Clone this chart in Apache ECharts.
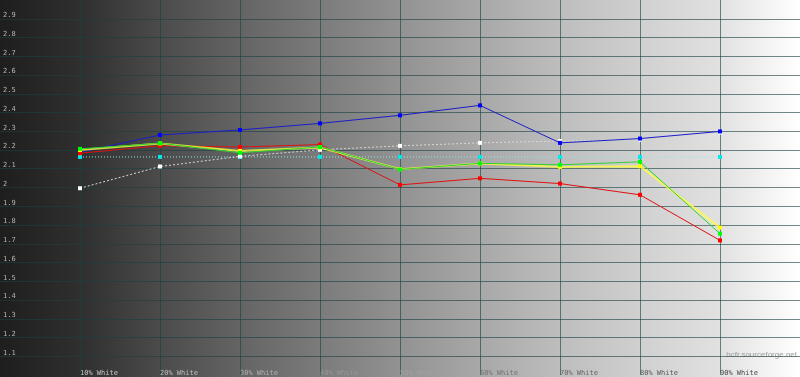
<!DOCTYPE html>
<html>
<head>
<meta charset="utf-8">
<script src="https://cdn.jsdelivr.net/npm/echarts@6/dist/echarts.min.js"></script>
<style>
html,body{margin:0;padding:0;background:#fff;}
#chart{width:800px;height:377px;}
</style>
</head>
<body>
<div id="chart"></div>
<script>
// Data (gamma vs. % white)
const xLevels = [10, 20, 30, 40, 50, 60, 70, 80, 90];
const tickLabelSuffix = '% White';
const blueGamma   = [2.188, 2.280, 2.307, 2.342, 2.385, 2.438, 2.238, 2.261, 2.299];
const redGamma    = [2.183, 2.223, 2.216, 2.229, 2.014, 2.049, 2.021, 1.961, 1.718];
const greenGamma  = [2.206, 2.236, 2.185, 2.216, 2.096, 2.129, 2.121, 2.137, 1.754];
const yellowGamma = [2.200, 2.235, 2.195, 2.213, 2.098, 2.128, 2.110, 2.113, 1.786];
const whiteGamma  = [1.996, 2.112, 2.166, 2.201, 2.222, 2.238, 2.248, 2.255, 2.293];
const targetGamma = [2.163, 2.163, 2.163, 2.163, 2.163, 2.163, 2.163, 2.163, 2.163];

const pairs = arr => xLevels.map((x, i) => [x, arr[i]]);

const labelColors = {10:'#c4c4c4',20:'#bdbdbd',30:'#b0b0b0',40:'#959595',50:'#a0a0a0',60:'#747474',70:'#666666',80:'#5a5a5a',90:'#4a4a4a'};

const chart = echarts.init(document.getElementById('chart'), null, {renderer: 'canvas'});

function line(name, data, color, width, markerColor, opts) {
  return Object.assign({
    name, type: 'line', data: pairs(data),
    symbol: 'rect', symbolSize: 4,
    itemStyle: {color: markerColor || color},
    lineStyle: {color, width},
    animation: false, silent: true
  }, opts || {});
}

const gridColor = 'rgba(24,66,66,0.62)';

chart.setOption({
  animation: false,
  backgroundColor: {
    type: 'linear', x: 0, y: 0, x2: 1, y2: 0,
    colorStops: [
      {offset: 0, color: '#1e1e1e'},
      {offset: 0.1, color: '#2f2f2f'},
      {offset: 0.2, color: '#4b4b4b'},
      {offset: 0.3, color: '#646464'},
      {offset: 0.4, color: '#7b7b7b'},
      {offset: 0.5, color: '#929292'},
      {offset: 0.6, color: '#a8a8a8'},
      {offset: 0.7, color: '#bdbdbd'},
      {offset: 0.8, color: '#d0d0d0'},
      {offset: 0.9, color: '#e1e1e1'},
      {offset: 1, color: '#ffffff'}
    ]
  },
  grid: {left: 0, right: 0, top: 0, bottom: 1, containLabel: false},
  xAxis: {
    type: 'value', min: 0, max: 100, interval: 10,
    axisLine: {show: false}, axisTick: {show: false},
    splitLine: {show: true, showMinLine: false, showMaxLine: false, lineStyle: {color: gridColor, width: 1}},
    axisLabel: {
      inside: true, margin: -2, align: 'left', verticalAlign: 'bottom',
      fontFamily: 'DejaVu Sans Mono', fontSize: 7, lineHeight: 8,
      showMinLabel: false, showMaxLabel: false,
      color: v => labelColors[v] || '#999',
      formatter: v => (v > 0 && v < 100) ? (v + tickLabelSuffix) : ''
    }
  },
  yAxis: {
    type: 'value', min: 1, max: 3, interval: 0.1,
    axisLine: {show: false}, axisTick: {show: false},
    splitLine: {show: true, showMinLine: false, showMaxLine: false, lineStyle: {color: gridColor, width: 1}},
    axisLabel: {
      inside: true, margin: 3, align: 'left', verticalAlign: 'bottom',
      fontFamily: 'DejaVu Sans Mono', fontSize: 7,
      color: '#b4b4b4',
      showMinLabel: false, showMaxLabel: false
    }
  },
  graphic: [{
    type: 'text', right: 3, top: 351, silent: true,
    style: {text: 'hcfr.sourceforge.net', fill: '#9c9c9c', font: '8px "Liberation Sans"'}
  }],
  series: [
    line('Target', targetGamma, '#8ee6e6', 1, '#00e8e8', {lineStyle: {color: '#8ee6e6', width: 1, type: [1, 2]}}),
    line('Gray', whiteGamma, '#d8d8d8', 1, '#ffffff', {lineStyle: {color: '#d8d8d8', width: 1, type: [2, 2]}}),
    line('Blue', blueGamma, '#1c1cc8', 1, '#0000ff'),
    line('Red', redGamma, '#e01010', 1, '#ff0000'),
    line('Yellow', yellowGamma, 'rgba(255,255,60,0.8)', 2, '#ffff00'),
    line('Green', greenGamma, '#30d030', 1, '#00ff00')
  ]
});
</script>
</body>
</html>
